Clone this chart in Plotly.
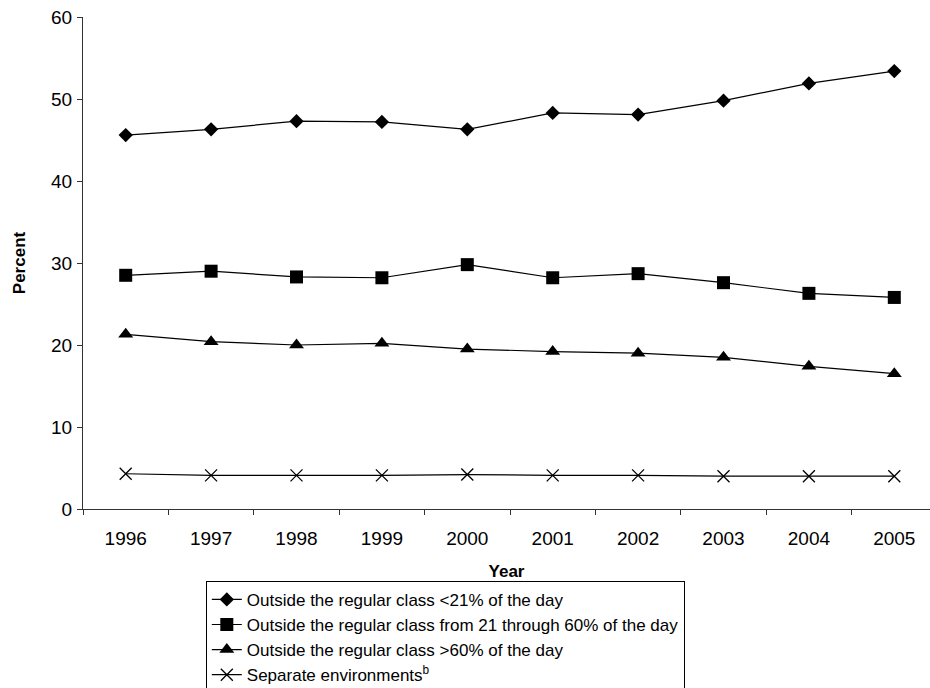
import plotly.graph_objects as go

# School years on the horizontal axis
years = ["1996", "1997", "1998", "1999", "2000", "2001", "2002", "2003", "2004", "2005"]

# Percent of students, by time spent outside the regular class
under_21 = [45.6, 46.3, 47.3, 47.2, 46.3, 48.3, 48.1, 49.8, 51.9, 53.4]
from_21_to_60 = [28.5, 29.0, 28.3, 28.2, 29.8, 28.2, 28.7, 27.6, 26.3, 25.8]
over_60 = [21.3, 20.4, 20.0, 20.2, 19.5, 19.2, 19.0, 18.5, 17.4, 16.5]
separate = [4.3, 4.1, 4.1, 4.1, 4.2, 4.1, 4.1, 4.0, 4.0, 4.0]

series_names = [
    "Outside the regular class <21% of the day",
    "Outside the regular class from 21 through 60% of the day",
    "Outside the regular class >60% of the day",
    "Separate environments<sup>b</sup>",
]

FONT = "Liberation Sans, Arial, sans-serif"

styles = [
    dict(symbol="diamond", size=11),
    dict(symbol="square", size=13),
    dict(symbol="triangle-up", size=13),
    dict(symbol="x-thin", size=12, line=dict(width=1.3, color="black")),
]

fig = go.Figure()
for name, values, mk in zip(series_names, [under_21, from_21_to_60, over_60, separate], styles):
    fig.add_trace(go.Scatter(
        x=years, y=values, name=name, mode="lines+markers",
        line=dict(color="black", width=1.2),
        marker=dict(color="black", **mk),
    ))

fig.update_layout(
    width=930, height=688,
    margin=dict(l=83, r=0, t=17, b=179, autoexpand=False),
    paper_bgcolor="white", plot_bgcolor="white",
    font=dict(family=FONT, color="black", size=19),
    showlegend=True,
    legend=dict(
        x=0.145, xanchor="left", y=-0.146, yanchor="top",
        bordercolor="black", borderwidth=1, bgcolor="white",
        font=dict(family=FONT, size=17, color="black"),
        itemwidth=30, tracegroupgap=0,
    ),
    xaxis=dict(
        type="category", range=[-0.5, 9.418],
        tickson="boundaries", ticks="outside", ticklen=5, tickcolor="#333",
        showline=True, linecolor="#333", linewidth=1, showgrid=False,
        tickfont=dict(family=FONT, size=19), ticklabelstandoff=12,
        title=dict(text="<b>Year</b>", font=dict(family=FONT, size=17), standoff=17),
    ),
    yaxis=dict(
        range=[0, 60], dtick=10, ticks="outside", ticklen=5, tickcolor="#333",
        showline=True, linecolor="#333", linewidth=1, showgrid=False, zeroline=False,
        tickfont=dict(family=FONT, size=19), ticklabelstandoff=1,
        title=dict(text="<b>Percent</b>", font=dict(family=FONT, size=17), standoff=21),
    ),
)

fig.write_html("out.html")
